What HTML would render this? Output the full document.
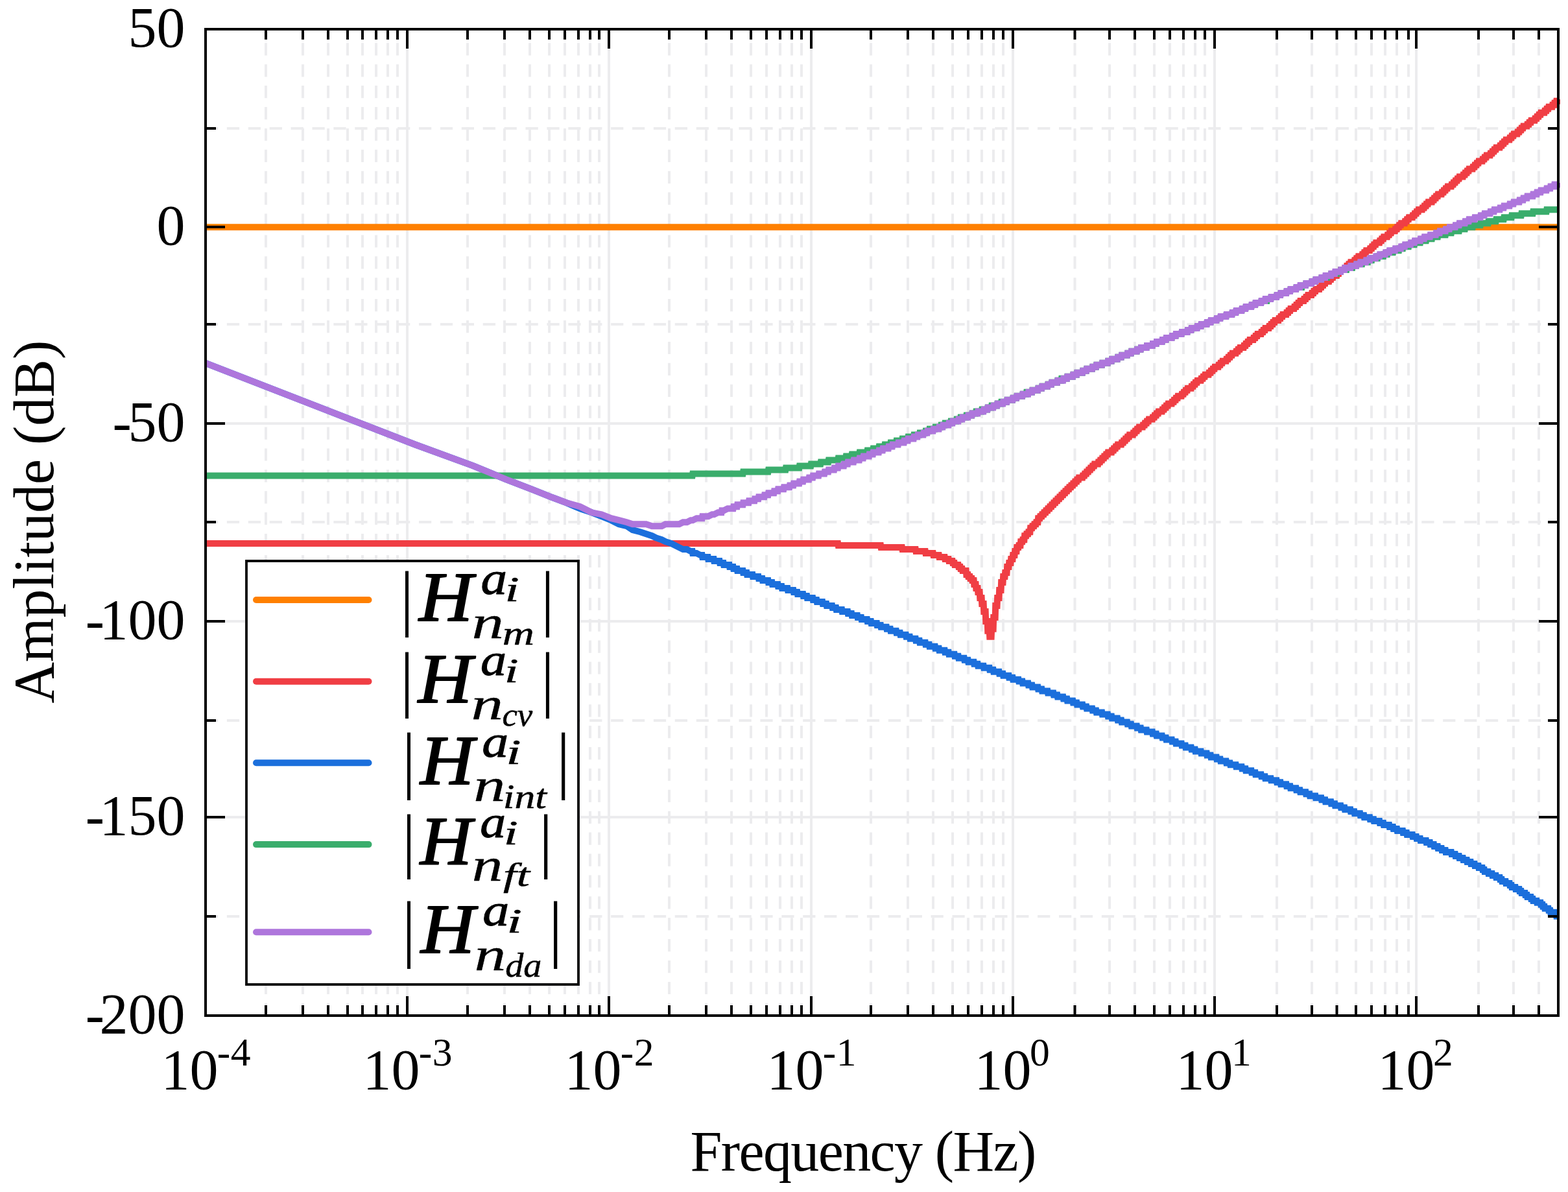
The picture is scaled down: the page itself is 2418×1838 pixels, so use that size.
<!DOCTYPE html>
<html lang="en"><head><meta charset="utf-8"><title>Amplitude vs Frequency</title>
<style>html,body{margin:0;padding:0;background:#fff}body{width:2418px;height:1838px;overflow:hidden}svg{display:block}text{font-family:"Liberation Serif","DejaVu Serif",serif;fill:#000}.it{font-style:italic}.bi{font-style:italic;font-weight:bold}</style></head><body>
<svg xmlns="http://www.w3.org/2000/svg" width="2418" height="1838" viewBox="0 0 2418 1838">
<rect width="2418" height="1838" fill="#fff"/>
<defs><clipPath id="ax"><rect x="317" y="45" width="2089" height="1521"/></clipPath></defs>
<g clip-path="url(#ax)" fill="none" stroke="#ececee" stroke-width="4">
<path stroke-dasharray="19.2 13.7" d="M410.0,1566 V45 M467.0,1566 V45 M506.0,1566 V45 M536.0,1566 V45 M559.0,1566 V45 M580.0,1566 V45 M598.0,1566 V45 M613.0,1566 V45 M721.0,1566 V45 M778.0,1566 V45 M817.0,1566 V45 M847.0,1566 V45 M871.0,1566 V45 M892.0,1566 V45 M910.0,1566 V45 M924.0,1566 V45 M1032.0,1566 V45 M1089.0,1566 V45 M1128.0,1566 V45 M1158.0,1566 V45 M1182.0,1566 V45 M1203.0,1566 V45 M1221.0,1566 V45 M1236.0,1566 V45 M1343.0,1566 V45 M1400.0,1566 V45 M1439.0,1566 V45 M1469.0,1566 V45 M1493.0,1566 V45 M1514.0,1566 V45 M1532.0,1566 V45 M1547.0,1566 V45 M1657.5,1566 V45 M1711.0,1566 V45 M1750.0,1566 V45 M1780.0,1566 V45 M1804.0,1566 V45 M1825.0,1566 V45 M1843.0,1566 V45 M1858.0,1566 V45 M1969.0,1566 V45 M2023.0,1566 V45 M2061.5,1566 V45 M2091.0,1566 V45 M2115.0,1566 V45 M2136.0,1566 V45 M2154.0,1566 V45 M2172.0,1566 V45 M2280.0,1566 V45 M2334.0,1566 V45 M2373.0,1566 V45"/>
<path stroke-dasharray="19.2 13.7" d="M317,198.0 H2403 M317,500.0 H2403 M317,805.0 H2403 M317,1111.0 H2403 M317,1413.0 H2403"/>
<path d="M628.0,1566 V45 M939.0,1566 V45 M1251.0,1566 V45 M1562.0,1566 V45 M1873.0,1566 V45 M2184.0,1566 V45 M317,350.0 H2403 M317,653.0 H2403 M317,958.0 H2403 M317,1260.0 H2403"/>
</g>
<g clip-path="url(#ax)" fill="none" stroke-width="10" stroke-linejoin="miter" stroke-miterlimit="4">
<path stroke="#ff8000" d="M317.0,350.3 L2403.1,350.3"/>
<path stroke="#f03e44" d="M317.0,838.1 L1292.2,838.1 L1292.7,841.1 L1358.1,841.1 L1358.6,844.1 L1391.0,844.1 L1391.5,847.1 L1411.9,847.1 L1412.4,850.1 L1426.9,850.1 L1427.4,853.1 L1438.9,853.1 L1439.4,856.1 L1447.9,856.1 L1448.4,859.1 L1456.8,859.1 L1457.3,862.1 L1462.8,862.1 L1463.3,865.1 L1468.8,865.1 L1469.3,868.1 L1471.8,868.1 L1472.3,871.1 L1477.8,871.1 L1478.3,874.1 L1480.8,874.1 L1481.3,877.1 L1483.8,877.1 L1484.3,880.0 L1489.8,880.0 L1490.3,886.0 L1492.7,886.0 L1493.2,889.0 L1495.7,889.0 L1496.2,892.0 L1498.7,892.0 L1499.2,895.0 L1501.7,895.0 L1502.2,901.0 L1504.7,901.0 L1505.2,907.0 L1507.7,907.0 L1508.2,913.0 L1510.7,913.0 L1511.2,921.9 L1513.7,921.9 L1514.2,930.9 L1516.7,930.9 L1517.2,942.9 L1519.7,942.9 L1520.2,957.9 L1522.7,957.9 L1523.2,972.8 L1525.7,972.8 L1526.2,981.8 L1528.7,981.8 L1529.2,969.8 L1531.7,969.8 L1532.2,951.9 L1534.7,951.9 L1535.2,933.9 L1537.6,933.9 L1538.1,921.9 L1540.6,921.9 L1541.1,910.0 L1543.6,910.0 L1544.1,898.0 L1546.6,898.0 L1547.1,889.0 L1549.6,889.0 L1550.1,883.0 L1552.6,883.0 L1553.1,874.1 L1555.6,874.1 L1556.1,868.1 L1558.6,868.1 L1559.1,862.1 L1561.6,862.1 L1562.1,856.1 L1564.6,856.1 L1565.1,850.1 L1567.6,850.1 L1568.1,844.1 L1570.6,844.1 L1571.1,841.1 L1573.6,841.1 L1574.1,835.2 L1576.6,835.2 L1577.1,832.2 L1579.5,832.2 L1580.0,826.2 L1582.5,826.2 L1583.0,823.2 L1585.5,823.2 L1586.0,820.2 L1588.5,820.2 L1589.0,814.2 L1591.5,814.2 L1592.0,811.2 L1594.5,811.2 L1595.0,808.2 L1597.5,808.2 L1598.0,805.2 L1600.5,805.2 L1601.0,799.2 L1603.5,799.2 L1604.0,796.2 L1606.5,796.2 L1607.0,793.2 L1609.5,793.2 L1610.0,790.3 L1612.5,790.3 L1613.0,787.3 L1615.5,787.3 L1616.0,784.3 L1618.5,784.3 L1619.0,781.3 L1621.4,781.3 L1621.9,778.3 L1624.4,778.3 L1624.9,775.3 L1627.4,775.3 L1627.9,772.3 L1630.4,772.3 L1630.9,769.3 L1633.4,769.3 L1633.9,766.3 L1636.4,766.3 L1636.9,763.3 L1639.4,763.3 L1639.9,760.3 L1642.4,760.3 L1642.9,757.3 L1645.4,757.3 L1645.9,754.3 L1648.4,754.3 L1648.9,751.3 L1651.4,751.3 L1651.9,748.4 L1654.4,748.4 L1654.9,745.4 L1657.4,745.4 L1657.9,742.4 L1660.4,742.4 L1660.9,739.4 L1663.3,739.4 L1663.8,736.4 L1669.3,736.4 L1669.8,733.4 L1672.3,733.4 L1672.8,730.4 L1675.3,730.4 L1675.8,727.4 L1678.3,727.4 L1678.8,724.4 L1681.3,724.4 L1681.8,721.4 L1684.3,721.4 L1684.8,718.4 L1687.3,718.4 L1687.8,715.4 L1693.3,715.4 L1693.8,712.4 L1696.3,712.4 L1696.8,709.4 L1699.3,709.4 L1699.8,706.5 L1702.3,706.5 L1702.8,703.5 L1705.3,703.5 L1705.8,700.5 L1708.2,700.5 L1708.7,697.5 L1714.2,697.5 L1714.7,694.5 L1717.2,694.5 L1717.7,691.5 L1720.2,691.5 L1720.7,688.5 L1723.2,688.5 L1723.7,685.5 L1729.2,685.5 L1729.7,682.5 L1732.2,682.5 L1732.7,679.5 L1735.2,679.5 L1735.7,676.5 L1738.2,676.5 L1738.7,673.5 L1741.2,673.5 L1741.7,670.5 L1747.2,670.5 L1747.7,667.5 L1750.1,667.5 L1750.6,664.6 L1753.1,664.6 L1753.6,661.6 L1756.1,661.6 L1756.6,658.6 L1762.1,658.6 L1762.6,655.6 L1765.1,655.6 L1765.6,652.6 L1768.1,652.6 L1768.6,649.6 L1771.1,649.6 L1771.6,646.6 L1777.1,646.6 L1777.6,643.6 L1780.1,643.6 L1780.6,640.6 L1783.1,640.6 L1783.6,637.6 L1786.1,637.6 L1786.6,634.6 L1792.0,634.6 L1792.5,631.6 L1795.0,631.6 L1795.5,628.6 L1798.0,628.6 L1798.5,625.6 L1801.0,625.6 L1801.5,622.6 L1807.0,622.6 L1807.5,619.7 L1810.0,619.7 L1810.5,616.7 L1813.0,616.7 L1813.5,613.7 L1816.0,613.7 L1816.5,610.7 L1822.0,610.7 L1822.5,607.7 L1825.0,607.7 L1825.5,604.7 L1828.0,604.7 L1828.5,601.7 L1831.0,601.7 L1831.5,598.7 L1836.9,598.7 L1837.4,595.7 L1839.9,595.7 L1840.4,592.7 L1842.9,592.7 L1843.4,589.7 L1845.9,589.7 L1846.4,586.7 L1851.9,586.7 L1852.4,583.7 L1854.9,583.7 L1855.4,580.7 L1857.9,580.7 L1858.4,577.8 L1863.9,577.8 L1864.4,574.8 L1866.9,574.8 L1867.4,571.8 L1869.9,571.8 L1870.4,568.8 L1872.9,568.8 L1873.4,565.8 L1878.8,565.8 L1879.3,562.8 L1881.8,562.8 L1882.3,559.8 L1884.8,559.8 L1885.3,556.8 L1890.8,556.8 L1891.3,553.8 L1893.8,553.8 L1894.3,550.8 L1896.8,550.8 L1897.3,547.8 L1899.8,547.8 L1900.3,544.8 L1905.8,544.8 L1906.3,541.8 L1908.8,541.8 L1909.3,538.8 L1911.8,538.8 L1912.3,535.9 L1917.8,535.9 L1918.3,532.9 L1920.7,532.9 L1921.2,529.9 L1923.7,529.9 L1924.2,526.9 L1926.7,526.9 L1927.2,523.9 L1932.7,523.9 L1933.2,520.9 L1935.7,520.9 L1936.2,517.9 L1938.7,517.9 L1939.2,514.9 L1944.7,514.9 L1945.2,511.9 L1947.7,511.9 L1948.2,508.9 L1950.7,508.9 L1951.2,505.9 L1956.7,505.9 L1957.2,502.9 L1959.7,502.9 L1960.2,499.9 L1962.6,499.9 L1963.1,496.9 L1965.6,496.9 L1966.1,493.9 L1971.6,493.9 L1972.1,491.0 L1974.6,491.0 L1975.1,488.0 L1977.6,488.0 L1978.1,485.0 L1983.6,485.0 L1984.1,482.0 L1986.6,482.0 L1987.1,479.0 L1989.6,479.0 L1990.1,476.0 L1995.6,476.0 L1996.1,473.0 L1998.6,473.0 L1999.1,470.0 L2001.6,470.0 L2002.1,467.0 L2004.6,467.0 L2005.1,464.0 L2010.5,464.0 L2011.0,461.0 L2013.5,461.0 L2014.0,458.0 L2016.5,458.0 L2017.0,455.0 L2022.5,455.0 L2023.0,452.0 L2025.5,452.0 L2026.0,449.1 L2028.5,449.1 L2029.0,446.1 L2034.5,446.1 L2035.0,443.1 L2037.5,443.1 L2038.0,440.1 L2040.5,440.1 L2041.0,437.1 L2043.5,437.1 L2044.0,434.1 L2049.4,434.1 L2049.9,431.1 L2052.4,431.1 L2052.9,428.1 L2055.4,428.1 L2055.9,425.1 L2061.4,425.1 L2061.9,422.1 L2064.4,422.1 L2064.9,419.1 L2067.4,419.1 L2067.9,416.1 L2073.4,416.1 L2073.9,413.1 L2076.4,413.1 L2076.9,410.1 L2079.4,410.1 L2079.9,407.2 L2082.4,407.2 L2082.9,404.2 L2088.4,404.2 L2088.9,401.2 L2091.3,401.2 L2091.8,398.2 L2094.3,398.2 L2094.8,395.2 L2100.3,395.2 L2100.8,392.2 L2103.3,392.2 L2103.8,389.2 L2106.3,389.2 L2106.8,386.2 L2112.3,386.2 L2112.8,383.2 L2115.3,383.2 L2115.8,380.2 L2118.3,380.2 L2118.8,377.2 L2121.3,377.2 L2121.8,374.2 L2127.3,374.2 L2127.8,371.2 L2130.3,371.2 L2130.8,368.2 L2133.3,368.2 L2133.8,365.3 L2139.2,365.3 L2139.7,362.3 L2142.2,362.3 L2142.7,359.3 L2145.2,359.3 L2145.7,356.3 L2151.2,356.3 L2151.7,353.3 L2154.2,353.3 L2154.7,350.3 L2157.2,350.3 L2157.7,347.3 L2160.2,347.3 L2160.7,344.3 L2166.2,344.3 L2166.7,341.3 L2169.2,341.3 L2169.7,338.3 L2172.2,338.3 L2172.7,335.3 L2178.1,335.3 L2178.6,332.3 L2181.1,332.3 L2181.6,329.3 L2184.1,329.3 L2184.6,326.3 L2187.1,326.3 L2187.6,323.3 L2193.1,323.3 L2193.6,320.4 L2196.1,320.4 L2196.6,317.4 L2199.1,317.4 L2199.6,314.4 L2202.1,314.4 L2202.6,311.4 L2208.1,311.4 L2208.6,308.4 L2211.1,308.4 L2211.6,305.4 L2214.1,305.4 L2214.6,302.4 L2217.1,302.4 L2217.6,299.4 L2223.0,299.4 L2223.5,296.4 L2226.0,296.4 L2226.5,293.4 L2229.0,293.4 L2229.5,290.4 L2232.0,290.4 L2232.5,287.4 L2238.0,287.4 L2238.5,284.4 L2241.0,284.4 L2241.5,281.4 L2244.0,281.4 L2244.5,278.5 L2247.0,278.5 L2247.5,275.5 L2250.0,275.5 L2250.5,272.5 L2256.0,272.5 L2256.5,269.5 L2259.0,269.5 L2259.5,266.5 L2262.0,266.5 L2262.5,263.5 L2264.9,263.5 L2265.4,260.5 L2270.9,260.5 L2271.4,257.5 L2273.9,257.5 L2274.4,254.5 L2276.9,254.5 L2277.4,251.5 L2279.9,251.5 L2280.4,248.5 L2285.9,248.5 L2286.4,245.5 L2288.9,245.5 L2289.4,242.5 L2291.9,242.5 L2292.4,239.5 L2297.9,239.5 L2298.4,236.6 L2300.9,236.6 L2301.4,233.6 L2303.9,233.6 L2304.4,230.6 L2306.8,230.6 L2307.3,227.6 L2312.8,227.6 L2313.3,224.6 L2315.8,224.6 L2316.3,221.6 L2318.8,221.6 L2319.3,218.6 L2321.8,218.6 L2322.3,215.6 L2327.8,215.6 L2328.3,212.6 L2330.8,212.6 L2331.3,209.6 L2333.8,209.6 L2334.3,206.6 L2339.8,206.6 L2340.3,203.6 L2342.8,203.6 L2343.3,200.6 L2345.8,200.6 L2346.3,197.6 L2348.7,197.6 L2349.2,194.6 L2354.7,194.6 L2355.2,191.7 L2357.7,191.7 L2358.2,188.7 L2360.7,188.7 L2361.2,185.7 L2366.7,185.7 L2367.2,182.7 L2369.7,182.7 L2370.2,179.7 L2372.7,179.7 L2373.2,176.7 L2375.7,176.7 L2376.2,173.7 L2381.7,173.7 L2382.2,170.7 L2384.7,170.7 L2385.2,167.7 L2387.7,167.7 L2388.2,164.7 L2393.6,164.7 L2394.1,161.7 L2396.6,161.7 L2397.1,158.7 L2399.6,158.7 L2400.1,155.7 L2402.6,155.7 L2403.1,152.7"/>
<path stroke="#1b6fdc" d="M317.0,559.8 L640.2,685.5 L730.0,718.4 L780.9,739.4 L819.8,754.3 L849.8,766.3 L873.7,775.3 L894.6,784.3 L912.6,790.3 L927.6,796.2 L942.5,802.2 L954.5,808.2 L966.5,811.2 L975.5,817.2 L987.4,820.2 L996.4,823.2 L1005.4,826.2 L1011.4,829.2 L1020.4,832.2 L1026.3,835.2 L1035.3,838.1 L1041.3,841.1 L1047.3,844.1 L1053.3,847.1 L1059.3,847.1 L1065.2,850.1 L1067.7,850.1 L1068.2,853.1 L1074.2,853.1 L1080.2,856.1 L1082.7,856.1 L1083.2,859.1 L1091.7,859.1 L1092.2,862.1 L1100.7,862.1 L1101.2,865.1 L1109.6,865.1 L1110.1,868.1 L1115.6,868.1 L1116.1,871.1 L1124.6,871.1 L1125.1,874.1 L1130.6,874.1 L1131.1,877.1 L1136.6,877.1 L1137.1,880.0 L1145.6,880.0 L1146.1,883.0 L1151.5,883.0 L1152.0,886.0 L1160.5,886.0 L1161.0,889.0 L1169.5,889.0 L1170.0,892.0 L1175.5,892.0 L1176.0,895.0 L1184.5,895.0 L1185.0,898.0 L1190.5,898.0 L1191.0,901.0 L1199.4,901.0 L1199.9,904.0 L1205.4,904.0 L1205.9,907.0 L1214.4,907.0 L1214.9,910.0 L1223.4,910.0 L1223.9,913.0 L1229.4,913.0 L1229.9,916.0 L1238.3,916.0 L1238.8,919.0 L1244.3,919.0 L1244.8,921.9 L1253.3,921.9 L1253.8,924.9 L1259.3,924.9 L1259.8,927.9 L1268.3,927.9 L1268.8,930.9 L1274.3,930.9 L1274.8,933.9 L1283.2,933.9 L1283.7,936.9 L1289.2,936.9 L1289.7,939.9 L1298.2,939.9 L1298.7,942.9 L1307.2,942.9 L1307.7,945.9 L1313.2,945.9 L1313.7,948.9 L1322.1,948.9 L1322.6,951.9 L1328.1,951.9 L1328.6,954.9 L1337.1,954.9 L1337.6,957.9 L1343.1,957.9 L1343.6,960.9 L1352.1,960.9 L1352.6,963.9 L1358.1,963.9 L1358.6,966.8 L1367.0,966.8 L1367.5,969.8 L1373.0,969.8 L1373.5,972.8 L1382.0,972.8 L1382.5,975.8 L1388.0,975.8 L1388.5,978.8 L1397.0,978.8 L1397.5,981.8 L1403.0,981.8 L1403.5,984.8 L1411.9,984.8 L1412.4,987.8 L1417.9,987.8 L1418.4,990.8 L1426.9,990.8 L1427.4,993.8 L1432.9,993.8 L1433.4,996.8 L1441.9,996.8 L1442.4,999.8 L1447.9,999.8 L1448.4,1002.8 L1456.8,1002.8 L1457.3,1005.8 L1462.8,1005.8 L1463.3,1008.7 L1471.8,1008.7 L1472.3,1011.7 L1477.8,1011.7 L1478.3,1014.7 L1486.8,1014.7 L1487.3,1017.7 L1492.7,1017.7 L1493.2,1020.7 L1501.7,1020.7 L1502.2,1023.7 L1507.7,1023.7 L1508.2,1026.7 L1516.7,1026.7 L1517.2,1029.7 L1525.7,1029.7 L1526.2,1032.7 L1531.7,1032.7 L1532.2,1035.7 L1540.6,1035.7 L1541.1,1038.7 L1546.6,1038.7 L1547.1,1041.7 L1555.6,1041.7 L1556.1,1044.7 L1561.6,1044.7 L1562.1,1047.7 L1570.6,1047.7 L1571.1,1050.6 L1576.6,1050.6 L1577.1,1053.6 L1585.5,1053.6 L1586.0,1056.6 L1591.5,1056.6 L1592.0,1059.6 L1600.5,1059.6 L1601.0,1062.6 L1606.5,1062.6 L1607.0,1065.6 L1615.5,1065.6 L1616.0,1068.6 L1624.4,1068.6 L1624.9,1071.6 L1630.4,1071.6 L1630.9,1074.6 L1639.4,1074.6 L1639.9,1077.6 L1645.4,1077.6 L1645.9,1080.6 L1654.4,1080.6 L1654.9,1083.6 L1660.4,1083.6 L1660.9,1086.6 L1669.3,1086.6 L1669.8,1089.6 L1675.3,1089.6 L1675.8,1092.5 L1684.3,1092.5 L1684.8,1095.5 L1690.3,1095.5 L1690.8,1098.5 L1699.3,1098.5 L1699.8,1101.5 L1708.2,1101.5 L1708.7,1104.5 L1714.2,1104.5 L1714.7,1107.5 L1723.2,1107.5 L1723.7,1110.5 L1729.2,1110.5 L1729.7,1113.5 L1738.2,1113.5 L1738.7,1116.5 L1744.2,1116.5 L1744.7,1119.5 L1753.1,1119.5 L1753.6,1122.5 L1759.1,1122.5 L1759.6,1125.5 L1768.1,1125.5 L1768.6,1128.5 L1777.1,1128.5 L1777.6,1131.5 L1783.1,1131.5 L1783.6,1134.5 L1792.0,1134.5 L1792.5,1137.4 L1798.0,1137.4 L1798.5,1140.4 L1807.0,1140.4 L1807.5,1143.4 L1813.0,1143.4 L1813.5,1146.4 L1822.0,1146.4 L1822.5,1149.4 L1828.0,1149.4 L1828.5,1152.4 L1836.9,1152.4 L1837.4,1155.4 L1842.9,1155.4 L1843.4,1158.4 L1851.9,1158.4 L1852.4,1161.4 L1860.9,1161.4 L1861.4,1164.4 L1866.9,1164.4 L1867.4,1167.4 L1875.9,1167.4 L1876.4,1170.4 L1881.8,1170.4 L1882.3,1173.4 L1890.8,1173.4 L1891.3,1176.4 L1896.8,1176.4 L1897.3,1179.3 L1905.8,1179.3 L1906.3,1182.3 L1914.8,1182.3 L1915.3,1185.3 L1920.7,1185.3 L1921.2,1188.3 L1929.7,1188.3 L1930.2,1191.3 L1935.7,1191.3 L1936.2,1194.3 L1944.7,1194.3 L1945.2,1197.3 L1950.7,1197.3 L1951.2,1200.3 L1959.7,1200.3 L1960.2,1203.3 L1968.6,1203.3 L1969.1,1206.3 L1974.6,1206.3 L1975.1,1209.3 L1983.6,1209.3 L1984.1,1212.3 L1989.6,1212.3 L1990.1,1215.3 L1998.6,1215.3 L1999.1,1218.3 L2004.6,1218.3 L2005.1,1221.2 L2013.5,1221.2 L2014.0,1224.2 L2019.5,1224.2 L2020.0,1227.2 L2028.5,1227.2 L2029.0,1230.2 L2037.5,1230.2 L2038.0,1233.2 L2043.5,1233.2 L2044.0,1236.2 L2052.4,1236.2 L2052.9,1239.2 L2058.4,1239.2 L2058.9,1242.2 L2067.4,1242.2 L2067.9,1245.2 L2073.4,1245.2 L2073.9,1248.2 L2082.4,1248.2 L2082.9,1251.2 L2088.4,1251.2 L2088.9,1254.2 L2097.3,1254.2 L2097.8,1257.2 L2103.3,1257.2 L2103.8,1260.2 L2112.3,1260.2 L2112.8,1263.2 L2118.3,1263.2 L2118.8,1266.1 L2127.3,1266.1 L2127.8,1269.1 L2133.3,1269.1 L2133.8,1272.1 L2142.2,1272.1 L2142.7,1275.1 L2148.2,1275.1 L2148.7,1278.1 L2154.2,1278.1 L2154.7,1281.1 L2163.2,1281.1 L2163.7,1284.1 L2169.2,1284.1 L2169.7,1287.1 L2178.1,1287.1 L2178.6,1290.1 L2184.1,1290.1 L2184.6,1293.1 L2190.1,1293.1 L2190.6,1296.1 L2199.1,1296.1 L2199.6,1299.1 L2205.1,1299.1 L2205.6,1302.1 L2211.1,1302.1 L2211.6,1305.1 L2217.1,1305.1 L2217.6,1308.0 L2223.0,1308.0 L2223.5,1311.0 L2229.0,1311.0 L2229.5,1314.0 L2238.0,1314.0 L2238.5,1317.0 L2244.0,1317.0 L2244.5,1320.0 L2250.0,1320.0 L2250.5,1323.0 L2256.0,1323.0 L2256.5,1326.0 L2262.0,1326.0 L2262.5,1329.0 L2267.9,1329.0 L2268.4,1332.0 L2273.9,1332.0 L2274.4,1335.0 L2279.9,1335.0 L2280.4,1338.0 L2285.9,1338.0 L2286.4,1341.0 L2288.9,1341.0 L2289.4,1344.0 L2294.9,1344.0 L2295.4,1347.0 L2300.9,1347.0 L2301.4,1349.9 L2306.8,1349.9 L2307.3,1352.9 L2312.8,1352.9 L2313.3,1355.9 L2315.8,1355.9 L2316.3,1358.9 L2321.8,1358.9 L2322.3,1361.9 L2327.8,1361.9 L2328.3,1364.9 L2330.8,1364.9 L2331.3,1367.9 L2336.8,1367.9 L2337.3,1370.9 L2342.8,1370.9 L2343.3,1373.9 L2345.8,1373.9 L2346.3,1376.9 L2351.7,1376.9 L2352.2,1379.9 L2354.7,1379.9 L2355.2,1382.9 L2360.7,1382.9 L2361.2,1385.9 L2363.7,1385.9 L2364.2,1388.9 L2369.7,1388.9 L2370.2,1391.8 L2375.7,1391.8 L2376.2,1394.8 L2378.7,1394.8 L2379.2,1397.8 L2381.7,1397.8 L2382.2,1400.8 L2387.7,1400.8 L2388.2,1403.8 L2390.6,1403.8 L2391.1,1406.8 L2396.6,1406.8 L2397.1,1409.8 L2399.6,1409.8 L2400.1,1412.8 L2403.1,1412.8"/>
<path stroke="#3aad6c" d="M317.0,733.4 L1067.7,733.4 L1068.2,730.4 L1145.6,730.4 L1146.1,727.4 L1184.5,727.4 L1185.0,724.4 L1211.4,724.4 L1211.9,721.4 L1232.4,721.4 L1232.9,718.4 L1250.3,718.4 L1250.8,715.4 L1265.3,715.4 L1265.8,712.4 L1277.3,712.4 L1277.8,709.4 L1292.2,709.4 L1292.7,706.5 L1304.2,706.5 L1304.7,703.5 L1313.2,703.5 L1313.7,700.5 L1325.1,700.5 L1325.6,697.5 L1337.1,697.5 L1337.6,694.5 L1346.1,694.5 L1346.6,691.5 L1355.1,691.5 L1355.6,688.5 L1364.0,688.5 L1364.5,685.5 L1373.0,685.5 L1373.5,682.5 L1382.0,682.5 L1382.5,679.5 L1391.0,679.5 L1391.5,676.5 L1400.0,676.5 L1400.5,673.5 L1408.9,673.5 L1409.4,670.5 L1417.9,670.5 L1418.4,667.5 L1426.9,667.5 L1427.4,664.6 L1432.9,664.6 L1433.4,661.6 L1441.9,661.6 L1442.4,658.6 L1450.8,658.6 L1451.3,655.6 L1456.8,655.6 L1457.3,652.6 L1465.8,652.6 L1466.3,649.6 L1474.8,649.6 L1475.3,646.6 L1480.8,646.6 L1481.3,643.6 L1489.8,643.6 L1490.3,640.6 L1498.7,640.6 L1499.2,637.6 L1504.7,637.6 L1505.2,634.6 L1513.7,634.6 L1514.2,631.6 L1522.7,631.6 L1523.2,628.6 L1528.7,628.6 L1529.2,625.6 L1537.6,625.6 L1538.1,622.6 L1543.6,622.6 L1544.1,619.7 L1552.6,619.7 L1553.1,616.7 L1561.6,616.7 L1562.1,613.7 L1567.6,613.7 L1568.1,610.7 L1576.6,610.7 L1577.1,607.7 L1582.5,607.7 L1583.0,604.7 L1591.5,604.7 L1592.0,601.7 L1600.5,601.7 L1601.0,598.7 L1606.5,598.7 L1607.0,595.7 L1615.5,595.7 L1616.0,592.7 L1621.4,592.7 L1621.9,589.7 L1630.4,589.7 L1630.9,586.7 L1636.4,586.7 L1636.9,583.7 L1645.4,583.7 L1645.9,580.7 L1654.4,580.7 L1654.9,577.8 L1660.4,577.8 L1660.9,574.8 L1669.3,574.8 L1669.8,571.8 L1675.3,571.8 L1675.8,568.8 L1684.3,568.8 L1684.8,565.8 L1690.3,565.8 L1690.8,562.8 L1699.3,562.8 L1699.8,559.8 L1708.2,559.8 L1708.7,556.8 L1714.2,556.8 L1714.7,553.8 L1723.2,553.8 L1723.7,550.8 L1729.2,550.8 L1729.7,547.8 L1738.2,547.8 L1738.7,544.8 L1744.2,544.8 L1744.7,541.8 L1753.1,541.8 L1753.6,538.8 L1759.1,538.8 L1759.6,535.9 L1768.1,535.9 L1768.6,532.9 L1777.1,532.9 L1777.6,529.9 L1783.1,529.9 L1783.6,526.9 L1792.0,526.9 L1792.5,523.9 L1798.0,523.9 L1798.5,520.9 L1807.0,520.9 L1807.5,517.9 L1813.0,517.9 L1813.5,514.9 L1822.0,514.9 L1822.5,511.9 L1831.0,511.9 L1831.5,508.9 L1836.9,508.9 L1837.4,505.9 L1845.9,505.9 L1846.4,502.9 L1851.9,502.9 L1852.4,499.9 L1860.9,499.9 L1861.4,496.9 L1866.9,496.9 L1867.4,493.9 L1875.9,493.9 L1876.4,491.0 L1881.8,491.0 L1882.3,488.0 L1890.8,488.0 L1891.3,485.0 L1899.8,485.0 L1900.3,482.0 L1905.8,482.0 L1906.3,479.0 L1914.8,479.0 L1915.3,476.0 L1920.7,476.0 L1921.2,473.0 L1929.7,473.0 L1930.2,470.0 L1935.7,470.0 L1936.2,467.0 L1944.7,467.0 L1945.2,464.0 L1953.7,464.0 L1954.2,461.0 L1959.7,461.0 L1960.2,458.0 L1968.6,458.0 L1969.1,455.0 L1974.6,455.0 L1975.1,452.0 L1983.6,452.0 L1984.1,449.1 L1989.6,449.1 L1990.1,446.1 L1998.6,446.1 L1999.1,443.1 L2007.5,443.1 L2008.0,440.1 L2013.5,440.1 L2014.0,437.1 L2022.5,437.1 L2023.0,434.1 L2028.5,434.1 L2029.0,431.1 L2037.5,431.1 L2038.0,428.1 L2046.5,428.1 L2047.0,425.1 L2052.4,425.1 L2052.9,422.1 L2061.4,422.1 L2061.9,419.1 L2067.4,419.1 L2067.9,416.1 L2076.4,416.1 L2076.9,413.1 L2085.4,413.1 L2085.9,410.1 L2091.3,410.1 L2091.8,407.2 L2100.3,407.2 L2100.8,404.2 L2109.3,404.2 L2109.8,401.2 L2115.3,401.2 L2115.8,398.2 L2124.3,398.2 L2124.8,395.2 L2133.3,395.2 L2133.8,392.2 L2139.2,392.2 L2139.7,389.2 L2148.2,389.2 L2148.7,386.2 L2157.2,386.2 L2157.7,383.2 L2163.2,383.2 L2163.7,380.2 L2172.2,380.2 L2172.7,377.2 L2181.1,377.2 L2181.6,374.2 L2190.1,374.2 L2190.6,371.2 L2199.1,371.2 L2199.6,368.2 L2208.1,368.2 L2208.6,365.3 L2217.1,365.3 L2217.6,362.3 L2229.0,362.3 L2229.5,359.3 L2238.0,359.3 L2238.5,356.3 L2250.0,356.3 L2250.5,353.3 L2259.0,353.3 L2259.5,350.3 L2270.9,350.3 L2271.4,347.3 L2282.9,347.3 L2283.4,344.3 L2294.9,344.3 L2295.4,341.3 L2306.8,341.3 L2307.3,338.3 L2318.8,338.3 L2319.3,335.3 L2330.8,335.3 L2331.3,332.3 L2345.8,332.3 L2346.3,329.3 L2363.7,329.3 L2364.2,326.3 L2384.7,326.3 L2385.2,323.3 L2403.1,323.3"/>
<path stroke="#ae76dc" d="M317.0,559.8 L640.2,685.5 L730.0,718.4 L780.9,739.4 L819.8,754.3 L849.8,766.3 L873.7,775.3 L894.6,781.3 L912.6,790.3 L927.6,793.2 L942.5,799.2 L954.5,802.2 L966.5,805.2 L975.5,808.2 L996.4,808.2 L1005.4,811.2 L1020.4,811.2 L1026.3,808.2 L1047.3,808.2 L1053.3,805.2 L1059.3,805.2 L1065.2,802.2 L1068.2,802.2 L1074.2,799.2 L1082.7,799.2 L1083.2,796.2 L1092.2,796.2 L1098.2,793.2 L1101.2,793.2 L1107.2,790.3 L1112.6,790.3 L1113.1,787.3 L1116.1,787.3 L1122.1,784.3 L1130.6,784.3 L1131.1,781.3 L1136.6,781.3 L1137.1,778.3 L1145.6,778.3 L1146.1,775.3 L1154.5,775.3 L1155.0,772.3 L1163.5,772.3 L1164.0,769.3 L1169.5,769.3 L1170.0,766.3 L1178.5,766.3 L1179.0,763.3 L1184.5,763.3 L1185.0,760.3 L1193.4,760.3 L1193.9,757.3 L1199.4,757.3 L1199.9,754.3 L1208.4,754.3 L1208.9,751.3 L1217.4,751.3 L1217.9,748.4 L1223.4,748.4 L1223.9,745.4 L1232.4,745.4 L1232.9,742.4 L1238.3,742.4 L1238.8,739.4 L1247.3,739.4 L1247.8,736.4 L1253.3,736.4 L1253.8,733.4 L1262.3,733.4 L1262.8,730.4 L1271.3,730.4 L1271.8,727.4 L1277.3,727.4 L1277.8,724.4 L1286.2,724.4 L1286.7,721.4 L1292.2,721.4 L1292.7,718.4 L1301.2,718.4 L1301.7,715.4 L1307.2,715.4 L1307.7,712.4 L1316.2,712.4 L1316.7,709.4 L1325.1,709.4 L1325.6,706.5 L1331.1,706.5 L1331.6,703.5 L1340.1,703.5 L1340.6,700.5 L1346.1,700.5 L1346.6,697.5 L1355.1,697.5 L1355.6,694.5 L1361.1,694.5 L1361.6,691.5 L1370.0,691.5 L1370.5,688.5 L1376.0,688.5 L1376.5,685.5 L1385.0,685.5 L1385.5,682.5 L1394.0,682.5 L1394.5,679.5 L1400.0,679.5 L1400.5,676.5 L1408.9,676.5 L1409.4,673.5 L1414.9,673.5 L1415.4,670.5 L1423.9,670.5 L1424.4,667.5 L1429.9,667.5 L1430.4,664.6 L1438.9,664.6 L1439.4,661.6 L1447.9,661.6 L1448.4,658.6 L1453.8,658.6 L1454.3,655.6 L1462.8,655.6 L1463.3,652.6 L1468.8,652.6 L1469.3,649.6 L1477.8,649.6 L1478.3,646.6 L1483.8,646.6 L1484.3,643.6 L1492.7,643.6 L1493.2,640.6 L1498.7,640.6 L1499.2,637.6 L1507.7,637.6 L1508.2,634.6 L1516.7,634.6 L1517.2,631.6 L1522.7,631.6 L1523.2,628.6 L1531.7,628.6 L1532.2,625.6 L1537.6,625.6 L1538.1,622.6 L1546.6,622.6 L1547.1,619.7 L1552.6,619.7 L1553.1,616.7 L1561.6,616.7 L1562.1,613.7 L1567.6,613.7 L1568.1,610.7 L1576.6,610.7 L1577.1,607.7 L1585.5,607.7 L1586.0,604.7 L1591.5,604.7 L1592.0,601.7 L1600.5,601.7 L1601.0,598.7 L1606.5,598.7 L1607.0,595.7 L1615.5,595.7 L1616.0,592.7 L1621.4,592.7 L1621.9,589.7 L1630.4,589.7 L1630.9,586.7 L1639.4,586.7 L1639.9,583.7 L1645.4,583.7 L1645.9,580.7 L1654.4,580.7 L1654.9,577.8 L1660.4,577.8 L1660.9,574.8 L1669.3,574.8 L1669.8,571.8 L1675.3,571.8 L1675.8,568.8 L1684.3,568.8 L1684.8,565.8 L1690.3,565.8 L1690.8,562.8 L1699.3,562.8 L1699.8,559.8 L1708.2,559.8 L1708.7,556.8 L1714.2,556.8 L1714.7,553.8 L1723.2,553.8 L1723.7,550.8 L1729.2,550.8 L1729.7,547.8 L1738.2,547.8 L1738.7,544.8 L1744.2,544.8 L1744.7,541.8 L1753.1,541.8 L1753.6,538.8 L1759.1,538.8 L1759.6,535.9 L1768.1,535.9 L1768.6,532.9 L1777.1,532.9 L1777.6,529.9 L1783.1,529.9 L1783.6,526.9 L1792.0,526.9 L1792.5,523.9 L1798.0,523.9 L1798.5,520.9 L1807.0,520.9 L1807.5,517.9 L1813.0,517.9 L1813.5,514.9 L1822.0,514.9 L1822.5,511.9 L1831.0,511.9 L1831.5,508.9 L1836.9,508.9 L1837.4,505.9 L1845.9,505.9 L1846.4,502.9 L1851.9,502.9 L1852.4,499.9 L1860.9,499.9 L1861.4,496.9 L1866.9,496.9 L1867.4,493.9 L1875.9,493.9 L1876.4,491.0 L1881.8,491.0 L1882.3,488.0 L1890.8,488.0 L1891.3,485.0 L1899.8,485.0 L1900.3,482.0 L1905.8,482.0 L1906.3,479.0 L1914.8,479.0 L1915.3,476.0 L1920.7,476.0 L1921.2,473.0 L1929.7,473.0 L1930.2,470.0 L1935.7,470.0 L1936.2,467.0 L1944.7,467.0 L1945.2,464.0 L1950.7,464.0 L1951.2,461.0 L1959.7,461.0 L1960.2,458.0 L1968.6,458.0 L1969.1,455.0 L1974.6,455.0 L1975.1,452.0 L1983.6,452.0 L1984.1,449.1 L1989.6,449.1 L1990.1,446.1 L1998.6,446.1 L1999.1,443.1 L2004.6,443.1 L2005.1,440.1 L2013.5,440.1 L2014.0,437.1 L2022.5,437.1 L2023.0,434.1 L2028.5,434.1 L2029.0,431.1 L2037.5,431.1 L2038.0,428.1 L2043.5,428.1 L2044.0,425.1 L2052.4,425.1 L2052.9,422.1 L2058.4,422.1 L2058.9,419.1 L2067.4,419.1 L2067.9,416.1 L2073.4,416.1 L2073.9,413.1 L2082.4,413.1 L2082.9,410.1 L2091.3,410.1 L2091.8,407.2 L2097.3,407.2 L2097.8,404.2 L2106.3,404.2 L2106.8,401.2 L2112.3,401.2 L2112.8,398.2 L2121.3,398.2 L2121.8,395.2 L2127.3,395.2 L2127.8,392.2 L2136.2,392.2 L2136.7,389.2 L2142.2,389.2 L2142.7,386.2 L2151.2,386.2 L2151.7,383.2 L2160.2,383.2 L2160.7,380.2 L2166.2,380.2 L2166.7,377.2 L2175.2,377.2 L2175.7,374.2 L2181.1,374.2 L2181.6,371.2 L2190.1,371.2 L2190.6,368.2 L2196.1,368.2 L2196.6,365.3 L2205.1,365.3 L2205.6,362.3 L2214.1,362.3 L2214.6,359.3 L2220.0,359.3 L2220.5,356.3 L2229.0,356.3 L2229.5,353.3 L2235.0,353.3 L2235.5,350.3 L2244.0,350.3 L2244.5,347.3 L2250.0,347.3 L2250.5,344.3 L2259.0,344.3 L2259.5,341.3 L2264.9,341.3 L2265.4,338.3 L2273.9,338.3 L2274.4,335.3 L2282.9,335.3 L2283.4,332.3 L2288.9,332.3 L2289.4,329.3 L2297.9,329.3 L2298.4,326.3 L2303.9,326.3 L2304.4,323.3 L2312.8,323.3 L2313.3,320.4 L2318.8,320.4 L2319.3,317.4 L2327.8,317.4 L2328.3,314.4 L2333.8,314.4 L2334.3,311.4 L2342.8,311.4 L2343.3,308.4 L2348.7,308.4 L2349.2,305.4 L2354.7,305.4 L2355.2,302.4 L2363.7,302.4 L2364.2,299.4 L2369.7,299.4 L2370.2,296.4 L2375.7,296.4 L2376.2,293.4 L2384.7,293.4 L2385.2,290.4 L2390.6,290.4 L2391.1,287.4 L2396.6,287.4 L2397.1,284.4 L2402.6,284.4 L2403.1,281.4"/>
</g>
<path fill="none" stroke="#000" stroke-width="4" d="M628.0,1566 v-30 M628.0,45 v30 M939.0,1566 v-30 M939.0,45 v30 M1251.0,1566 v-30 M1251.0,45 v30 M1562.0,1566 v-30 M1562.0,45 v30 M1873.0,1566 v-30 M1873.0,45 v30 M2184.0,1566 v-30 M2184.0,45 v30 M410.0,1566 v-16 M410.0,45 v16 M467.0,1566 v-16 M467.0,45 v16 M506.0,1566 v-16 M506.0,45 v16 M536.0,1566 v-16 M536.0,45 v16 M559.0,1566 v-16 M559.0,45 v16 M580.0,1566 v-16 M580.0,45 v16 M598.0,1566 v-16 M598.0,45 v16 M613.0,1566 v-16 M613.0,45 v16 M721.0,1566 v-16 M721.0,45 v16 M778.0,1566 v-16 M778.0,45 v16 M817.0,1566 v-16 M817.0,45 v16 M847.0,1566 v-16 M847.0,45 v16 M871.0,1566 v-16 M871.0,45 v16 M892.0,1566 v-16 M892.0,45 v16 M910.0,1566 v-16 M910.0,45 v16 M924.0,1566 v-16 M924.0,45 v16 M1032.0,1566 v-16 M1032.0,45 v16 M1089.0,1566 v-16 M1089.0,45 v16 M1128.0,1566 v-16 M1128.0,45 v16 M1158.0,1566 v-16 M1158.0,45 v16 M1182.0,1566 v-16 M1182.0,45 v16 M1203.0,1566 v-16 M1203.0,45 v16 M1221.0,1566 v-16 M1221.0,45 v16 M1236.0,1566 v-16 M1236.0,45 v16 M1343.0,1566 v-16 M1343.0,45 v16 M1400.0,1566 v-16 M1400.0,45 v16 M1439.0,1566 v-16 M1439.0,45 v16 M1469.0,1566 v-16 M1469.0,45 v16 M1493.0,1566 v-16 M1493.0,45 v16 M1514.0,1566 v-16 M1514.0,45 v16 M1532.0,1566 v-16 M1532.0,45 v16 M1547.0,1566 v-16 M1547.0,45 v16 M1657.5,1566 v-16 M1657.5,45 v16 M1711.0,1566 v-16 M1711.0,45 v16 M1750.0,1566 v-16 M1750.0,45 v16 M1780.0,1566 v-16 M1780.0,45 v16 M1804.0,1566 v-16 M1804.0,45 v16 M1825.0,1566 v-16 M1825.0,45 v16 M1843.0,1566 v-16 M1843.0,45 v16 M1858.0,1566 v-16 M1858.0,45 v16 M1969.0,1566 v-16 M1969.0,45 v16 M2023.0,1566 v-16 M2023.0,45 v16 M2061.5,1566 v-16 M2061.5,45 v16 M2091.0,1566 v-16 M2091.0,45 v16 M2115.0,1566 v-16 M2115.0,45 v16 M2136.0,1566 v-16 M2136.0,45 v16 M2154.0,1566 v-16 M2154.0,45 v16 M2172.0,1566 v-16 M2172.0,45 v16 M2280.0,1566 v-16 M2280.0,45 v16 M2334.0,1566 v-16 M2334.0,45 v16 M2373.0,1566 v-16 M2373.0,45 v16 M317,350.0 h30 M2403,350.0 h-30 M317,653.0 h30 M2403,653.0 h-30 M317,958.0 h30 M2403,958.0 h-30 M317,1260.0 h30 M2403,1260.0 h-30 M317,198.0 h16 M2403,198.0 h-16 M317,500.0 h16 M2403,500.0 h-16 M317,805.0 h16 M2403,805.0 h-16 M317,1111.0 h16 M2403,1111.0 h-16 M317,1413.0 h16 M2403,1413.0 h-16"/>
<rect x="317" y="45" width="2086" height="1521" fill="none" stroke="#000" stroke-width="4"/>
<g font-size="88">
<text x="285.4" y="72.1" text-anchor="end">50</text>
<text x="285.4" y="377.1" text-anchor="end">0</text>
<text x="285.4" y="680.1" text-anchor="end">50</text>
<text x="173.6" y="680.7">-</text>
<text x="285.4" y="985.1" text-anchor="end">100</text>
<text x="131.7" y="985.7">-</text>
<text x="285.4" y="1287.1" text-anchor="end">150</text>
<text x="131.7" y="1287.7">-</text>
<text x="285.4" y="1593.1" text-anchor="end">200</text>
<text x="131.7" y="1593.7">-</text>
<text x="248.6" y="1679.2">10</text>
<text x="334.7" y="1642.8" font-size="61.6">-</text>
<text x="355.7" y="1642.8" font-size="61.6">4</text>
<text x="559.5" y="1679.2">10</text>
<text x="645.7" y="1642.8" font-size="61.6">-</text>
<text x="666.7" y="1642.8" font-size="61.6">3</text>
<text x="870.5" y="1679.2">10</text>
<text x="956.7" y="1642.8" font-size="61.6">-</text>
<text x="977.7" y="1642.8" font-size="61.6">2</text>
<text x="1182.5" y="1679.2">10</text>
<text x="1268.7" y="1642.8" font-size="61.6">-</text>
<text x="1289.7" y="1642.8" font-size="61.6">1</text>
<text x="1502.5" y="1679.2">10</text>
<text x="1588.0" y="1642.8" font-size="61.6">0</text>
<text x="1813.5" y="1679.2">10</text>
<text x="1899.0" y="1642.8" font-size="61.6">1</text>
<text x="2124.5" y="1679.2">10</text>
<text x="2210.0" y="1642.8" font-size="61.6">2</text>
<text x="1064.5" y="1805" textLength="533.7" lengthAdjust="spacing">Frequency (Hz)</text>
<text transform="translate(82,804.6) rotate(-90)" text-anchor="middle">Amplitude (dB)</text>
</g>
<rect x="380" y="865" width="512" height="653" fill="#fff" stroke="#000" stroke-width="3.8"/>
<path d="M395,925.0 H568.5" stroke="#ff8000" stroke-width="10" stroke-linecap="round" fill="none"/>
<g>
<text transform="translate(617.50,958.59) scale(0.8844,1)" font-size="113.08">|</text>
<text class="it" transform="translate(646.25,957.10) scale(1.0708,1)" font-size="107.02" stroke="#000" stroke-width="2.2" stroke-linejoin="round">H</text>
<text class="it" transform="translate(741.57,915.68) scale(1.1291,1)" font-size="71.88" stroke="#000" stroke-width="1" stroke-linejoin="round">a</text>
<text class="it" transform="translate(778.50,927.10) scale(1.4641,1)" font-size="54.64" stroke="#000" stroke-width="0.5" stroke-linejoin="round">i</text>
<text class="it" transform="translate(727.53,983.70) scale(1.3749,1)" font-size="72.13" stroke="#000" stroke-width="0.3" stroke-linejoin="round">n</text>
<text class="it" transform="translate(774.64,994.20) scale(1.2972,1)" font-size="52.55" stroke="#000" stroke-width="0.5" stroke-linejoin="round">m</text>
<text transform="translate(834.25,958.59) scale(0.9020,1)" font-size="113.08">|</text>
</g>
<path d="M395,1050.8 H568.5" stroke="#f03e44" stroke-width="10" stroke-linecap="round" fill="none"/>
<g>
<text transform="translate(617.50,1084.28) scale(0.8878,1)" font-size="112.64">|</text>
<text class="it" transform="translate(645.05,1082.70) scale(1.0683,1)" font-size="107.63" stroke="#000" stroke-width="2.2" stroke-linejoin="round">H</text>
<text class="it" transform="translate(740.89,1040.90) scale(1.1462,1)" font-size="70.00" stroke="#000" stroke-width="1" stroke-linejoin="round">a</text>
<text class="it" transform="translate(777.66,1052.10) scale(1.4819,1)" font-size="53.28" stroke="#000" stroke-width="0.5" stroke-linejoin="round">i</text>
<text class="it" transform="translate(726.43,1109.00) scale(1.4082,1)" font-size="70.43" stroke="#000" stroke-width="0.3" stroke-linejoin="round">n</text>
<text class="it" transform="translate(774.42,1119.49) scale(1.0435,1)" font-size="50.62" stroke="#000" stroke-width="0.5" stroke-linejoin="round">cv</text>
<text transform="translate(834.25,1084.28) scale(0.9056,1)" font-size="112.64">|</text>
</g>
<path d="M395,1176.3 H568.5" stroke="#1b6fdc" stroke-width="10" stroke-linecap="round" fill="none"/>
<g>
<text transform="translate(620.50,1210.28) scale(0.8767,1)" font-size="114.07">|</text>
<text class="it" transform="translate(648.14,1209.20) scale(1.0522,1)" font-size="108.55" stroke="#000" stroke-width="2.2" stroke-linejoin="round">H</text>
<text class="it" transform="translate(743.14,1166.90) scale(1.1624,1)" font-size="70.42" stroke="#000" stroke-width="1" stroke-linejoin="round">a</text>
<text class="it" transform="translate(780.37,1178.40) scale(1.5574,1)" font-size="54.04" stroke="#000" stroke-width="0.5" stroke-linejoin="round">i</text>
<text class="it" transform="translate(730.15,1235.10) scale(1.3531,1)" font-size="72.77" stroke="#000" stroke-width="0.3" stroke-linejoin="round">n</text>
<text class="it" transform="translate(775.69,1245.57) scale(1.1956,1)" font-size="53.38" stroke="#000" stroke-width="0.5" stroke-linejoin="round">int</text>
<text transform="translate(858.20,1210.28) scale(0.9118,1)" font-size="114.07">|</text>
</g>
<path d="M395,1302.1 H568.5" stroke="#3aad6c" stroke-width="10" stroke-linecap="round" fill="none"/>
<g>
<text transform="translate(620.50,1333.22) scale(0.9118,1)" font-size="109.67">|</text>
<text class="it" transform="translate(648.10,1332.40) scale(1.0430,1)" font-size="105.80" stroke="#000" stroke-width="2.2" stroke-linejoin="round">H</text>
<text class="it" transform="translate(740.21,1291.31) scale(1.1603,1)" font-size="68.75" stroke="#000" stroke-width="1" stroke-linejoin="round">a</text>
<text class="it" transform="translate(776.63,1302.20) scale(1.5218,1)" font-size="52.23" stroke="#000" stroke-width="0.5" stroke-linejoin="round">i</text>
<text class="it" transform="translate(727.66,1358.00) scale(1.3463,1)" font-size="70.85" stroke="#000" stroke-width="0.3" stroke-linejoin="round">n</text>
<text class="it" transform="translate(775.88,1366.29) scale(1.4780,1)" font-size="49.92" stroke="#000" stroke-width="0.5" stroke-linejoin="round">ft</text>
<text transform="translate(831.30,1333.22) scale(0.9483,1)" font-size="109.67">|</text>
</g>
<path d="M395,1437.2 H568.5" stroke="#ae76dc" stroke-width="10" stroke-linecap="round" fill="none"/>
<g>
<text transform="translate(620.50,1470.40) scale(0.8742,1)" font-size="114.40">|</text>
<text class="it" transform="translate(649.05,1469.10) scale(1.0569,1)" font-size="108.55" stroke="#000" stroke-width="2.2" stroke-linejoin="round">H</text>
<text class="it" transform="translate(744.34,1427.09) scale(1.1622,1)" font-size="70.62" stroke="#000" stroke-width="1" stroke-linejoin="round">a</text>
<text class="it" transform="translate(781.19,1438.30) scale(1.6041,1)" font-size="53.43" stroke="#000" stroke-width="0.5" stroke-linejoin="round">i</text>
<text class="it" transform="translate(731.48,1495.70) scale(1.3633,1)" font-size="71.70" stroke="#000" stroke-width="0.3" stroke-linejoin="round">n</text>
<text class="it" transform="translate(779.32,1505.77) scale(1.0629,1)" font-size="52.77" stroke="#000" stroke-width="0.5" stroke-linejoin="round">da</text>
<text transform="translate(846.20,1470.40) scale(0.9091,1)" font-size="114.40">|</text>
</g>
</svg></body></html>
